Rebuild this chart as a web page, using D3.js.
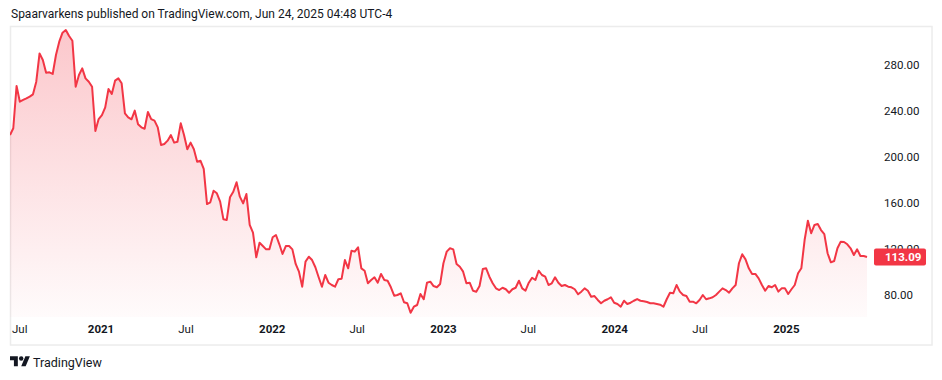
<!DOCTYPE html>
<html><head><meta charset="utf-8">
<script src="https://cdn.jsdelivr.net/npm/d3@7"></script>
<style>
html,body{margin:0;padding:0;background:#fff;}
svg{display:block;}
text{font-family:Roboto,"Noto Sans",sans-serif;}
</style></head>
<body><svg id="c" width="942" height="380"></svg>
<script>
const headerText = "Spaarvarkens published on TradingView.com, Jun 24, 2025 04:48 UTC-4";
const brandText = "TradingView";
const seriesStart = "2020-06-22";
const weeklyClose = [
 219.1,225,261.7,248.1,249.6,251,252.5,254.5,265.5,290.1,284.3,273.3,273.6,272.2,288.7,300.3,308.1,310.4,305.2,301.1,
 261.1,271.3,277.1,268.4,265.5,261.1,222.6,233,236.5,243.2,259.1,254.8,266.4,268.4,264.1,238,234.5,232.8,240.3,228.4,
 225.8,224.6,239.1,233,231.6,225.8,210.4,211.3,214.2,219.1,212.5,213.3,229.3,219.1,206.7,212.5,206.7,195.9,196.8,189.6,
 159.1,160.6,170.7,168.4,161.2,145.8,145.2,165,169.8,178,165.5,159.7,167.8,140.9,134.2,112.8,125.5,122.6,119.7,119.7,
 130.2,132.2,124.3,115.7,122.6,122.6,119.7,107,100.3,87.2,109,113.3,110.4,104.1,95.4,87.2,97.4,90.7,88.7,87.2,
 93.7,94.2,110.4,103.2,118.5,117.7,121.5,103.2,101.1,90.2,93,95.4,90.7,98.3,93,92.4,86.7,79.4,80,81.5,
 73.7,72.8,64.6,69.8,71.3,80.9,76.3,90.7,91.6,87.8,86.7,89.6,107.6,117.7,120.6,119.7,107,104.6,100.3,90.2,
 90.7,83.7,82.9,87.8,102.6,103.2,95.9,90.2,85.8,84.3,86.3,85,82,85,86.3,92.4,85.8,83.7,90.7,95,
 93,101.1,97.4,95.9,88.7,90.2,95.4,90.7,87.8,88.7,87.2,86.7,85,80.6,82.9,85.8,83.7,78.5,79.1,75.7,
 72.8,75,76.3,78,73.3,72.2,69.8,75,72.2,73.3,75,76.5,75,74.5,73.9,72.8,72.8,72.2,71.6,69.8,
 76.3,82,81.5,88.7,82.9,80,79.1,74.2,74.2,72.8,75.7,80,76.3,77.1,78,80,82.9,85.8,84.3,82,
 85.8,88.7,107.6,115.4,111,103.2,98.3,98.3,94.5,88.7,83.7,87.8,86.7,88.7,82.9,85.8,85.8,80.9,85,88.7,
 98.9,103.2,127.8,144.6,133.7,140.9,141.7,136.5,133,116.3,108.4,109.6,120.6,126.4,126.1,124.1,120.6,114.8,119.7,113.9,
 113.9,113.09
];
const priceTicks = [80, 120, 160, 200, 240, 280];
const timeTickDates = ["2020-07-01","2021-01-01","2021-07-01","2022-01-01","2022-07-01","2023-01-01","2023-07-01","2024-01-01","2024-07-01","2025-01-01"];
const timeTickLabels = ["Jul","2021","Jul","2022","Jul","2023","Jul","2024","Jul","2025"];
const lastPrice = 113.09;

const lineColor = "#F23645";
const textColor = "#131722";
const svg = d3.select("#c");
const parse = d3.utcParse("%Y-%m-%d");
const t0 = parse(seriesStart);
const data = weeklyClose.map((v, i) => ({date: d3.utcDay.offset(t0, 7 * i), value: v}));

const pane = {left: 10, right: 867, top: 27, bottom: 317};
const x = d3.scaleUtc().domain([data[0].date, data[data.length - 1].date]).range([pane.left, pane.right]);
const y = d3.scaleLinear().domain([80, 280]).range([295, 65]);

// frame
svg.append("rect").attr("x", 10.5).attr("y", 26.5).attr("width", 921.5).attr("height", 318.5)
  .attr("fill", "none").attr("stroke", "#ececec").attr("stroke-width", 1.5);

// header
svg.append("text").attr("x", 11).attr("y", 18).attr("font-size", 12).attr("fill", textColor).text(headerText);

// gradient
const defs = svg.append("defs");
const grad = defs.append("linearGradient").attr("id", "g").attr("gradientUnits", "userSpaceOnUse")
  .attr("x1", 0).attr("x2", 0).attr("y1", pane.top).attr("y2", pane.bottom);
grad.append("stop").attr("offset", 0).attr("stop-color", lineColor).attr("stop-opacity", 0.28);
grad.append("stop").attr("offset", 1).attr("stop-color", lineColor).attr("stop-opacity", 0.02);
const clip = defs.append("clipPath").attr("id", "clip");
clip.append("rect").attr("x", pane.left).attr("y", pane.top).attr("width", pane.right - pane.left + 2).attr("height", pane.bottom - pane.top);

const area = d3.area().x(d => x(d.date)).y0(pane.bottom).y1(d => y(d.value));
const line = d3.line().x(d => x(d.date)).y(d => y(d.value));
const g = svg.append("g").attr("clip-path", "url(#clip)");
g.append("path").datum(data).attr("d", area).attr("fill", "url(#g)");
g.append("path").datum(data).attr("d", line).attr("fill", "none").attr("stroke", lineColor)
  .attr("stroke-width", 2).attr("stroke-linejoin", "round");

// price axis
const yAxis = d3.axisRight(y).tickValues(priceTicks).tickFormat(d3.format(".2f")).tickSize(0).tickPadding(0);
const ya = svg.append("g").attr("transform", "translate(884,0)").call(yAxis);
ya.select(".domain").remove();
ya.selectAll("text").attr("fill", textColor).attr("font-size", 11.5).attr("font-family", "Roboto, sans-serif");

// time axis
const tickDates = timeTickDates.map(parse);
const xAxis = d3.axisBottom(x).tickValues(tickDates).tickFormat((d, i) => timeTickLabels[i]).tickSize(0).tickPadding(0);
const xa = svg.append("g").attr("transform", "translate(0,325)").call(xAxis);
xa.select(".domain").remove();
xa.selectAll("text").attr("fill", textColor).attr("font-size", 11.5).attr("font-family", "Roboto, sans-serif")
  .attr("font-weight", (d, i) => /^\d{4}$/.test(timeTickLabels[i]) ? "bold" : "normal");
// keep edge label inside the pane
xa.selectAll(".tick").each(function () {
  const t = d3.select(this).select("text");
  const w = t.node().getComputedTextLength();
  const tx = +d3.select(this).attr("transform").match(/translate\(([-\d.]+)/)[1];
  if (tx - w / 2 < 12) t.attr("dx", (12 - (tx - w / 2)) + "px");
});

// last price label (drawn over the price axis, as in the reference)
const ly = y(lastPrice);
svg.append("rect").attr("x", 874).attr("y", ly - 8.5).attr("width", 52).attr("height", 17).attr("rx", 2).attr("fill", lineColor);
svg.append("text").attr("x", 885).attr("y", ly).attr("dy", "0.35em").attr("font-size", 11.5).attr("font-weight", "bold")
  .attr("fill", "#fff").text(d3.format(".2f")(lastPrice));

// footer logo
const logo = svg.append("g").attr("transform", "translate(10,354) scale(0.56)").attr("fill", textColor);
logo.append("path").attr("d", "M14 22H7V11H0V4h14v18z");
logo.append("circle").attr("cx", 20).attr("cy", 8).attr("r", 4);
logo.append("path").attr("d", "M28 22h-8l7.5-18h8L28 22z");
svg.append("text").attr("x", 33).attr("y", 366.5).attr("font-size", 12.5).attr("fill", textColor).text(brandText);
</script>
</body></html>
